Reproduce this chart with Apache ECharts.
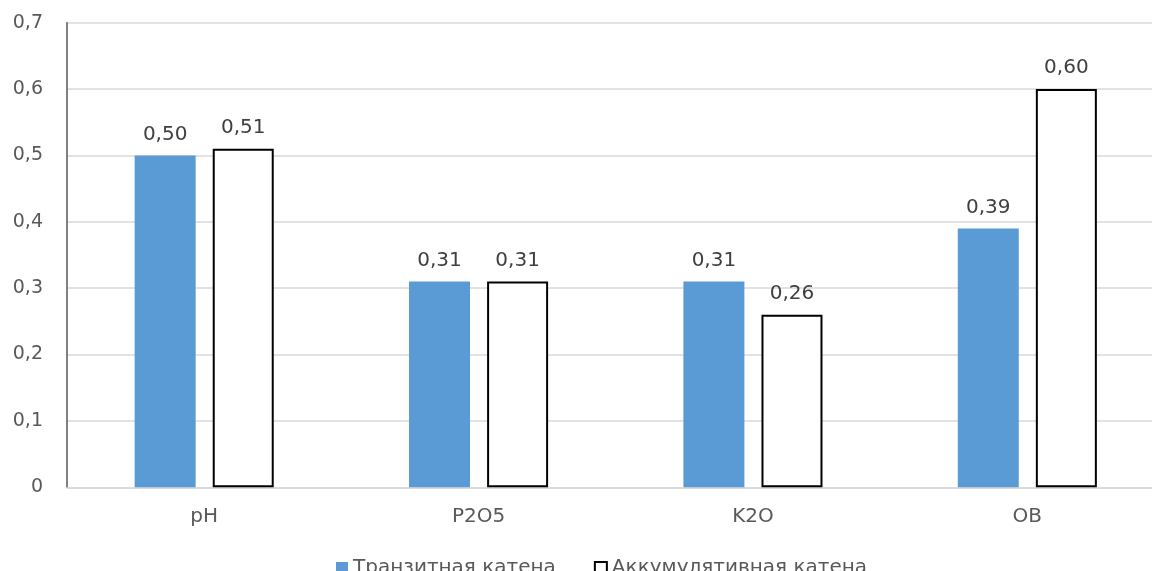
<!DOCTYPE html>
<html>
<head>
<meta charset="utf-8">
<script src="https://cdn.jsdelivr.net/npm/echarts@6/dist/echarts.min.js"></script>
<style>
  html, body { margin: 0; padding: 0; background: #fff; overflow: hidden; }
  #chart { width: 1152px; height: 571px; }
</style>
</head>
<body>
<div id="chart"></div>
<script>
// Soil indicators along the two catenas
const categories = ['pH', 'P2O5', 'K2O', 'OB'];
const transitValues = [0.50, 0.31, 0.31, 0.39];
const accumValues = [0.51, 0.31, 0.26, 0.60];
const seriesNames = ['Транзитная катена', 'Аккумулятивная катена'];

const FONT = '"DejaVu Sans", "Open Sans", sans-serif';
const fmtComma = (v, d) => v.toFixed(d).replace('.', ',');

const chart = echarts.init(document.getElementById('chart'), null, { renderer: 'canvas' });

const labelStyle = {
  show: true,
  position: 'top',
  distance: 11,
  color: '#404040',
  fontFamily: FONT,
  fontSize: 20,
  formatter: p => fmtComma(p.value, 2)
};

chart.setOption({
  animation: false,
  backgroundColor: '#ffffff',
  // the plot runs a little past the right edge of the canvas
  grid: {
    left: 67, width: 1097.5, top: 22.7, bottom: 83.7,
    containLabel: false, outerBoundsMode: 'none', show: false
  },
  legend: {
    data: [
      { name: seriesNames[0], icon: 'rect' },
      { name: seriesNames[1], icon: 'rect' }
    ],
    left: 331,
    top: 553,
    itemWidth: 12,
    itemHeight: 12,
    itemGap: 38,
    textStyle: { color: '#595959', fontFamily: FONT, fontSize: 20 }
  },
  xAxis: {
    type: 'category',
    data: categories,
    axisLine: { lineStyle: { color: '#d9d9d9', width: 1.5 } },
    axisTick: { show: false },
    splitLine: { show: false },
    axisLabel: { color: '#595959', fontFamily: FONT, fontSize: 20, margin: 19 }
  },
  yAxis: {
    type: 'value',
    min: 0,
    max: 0.7,
    interval: 0.1,
    axisLine: { show: true, lineStyle: { color: '#595959', width: 1.5 } },
    axisTick: { show: false },
    axisLabel: {
      color: '#595959',
      fontFamily: FONT,
      fontSize: 19,
      margin: 24,
      formatter: v => v === 0 ? '0' : fmtComma(v, 1)
    },
    splitLine: { lineStyle: { color: '#d9d9d9', width: 1.5 } }
  },
  series: [
    {
      name: seriesNames[0],
      type: 'bar',
      data: transitValues,
      barWidth: 61,
      barGap: '28%',
      itemStyle: { color: '#5B9BD5' },
      label: labelStyle
    },
    {
      name: seriesNames[1],
      type: 'bar',
      data: accumValues,
      barWidth: 61,
      barGap: '28%',
      itemStyle: { color: '#ffffff', borderColor: '#000000', borderWidth: 2 },
      label: labelStyle
    }
  ]
});
</script>
</body>
</html>
